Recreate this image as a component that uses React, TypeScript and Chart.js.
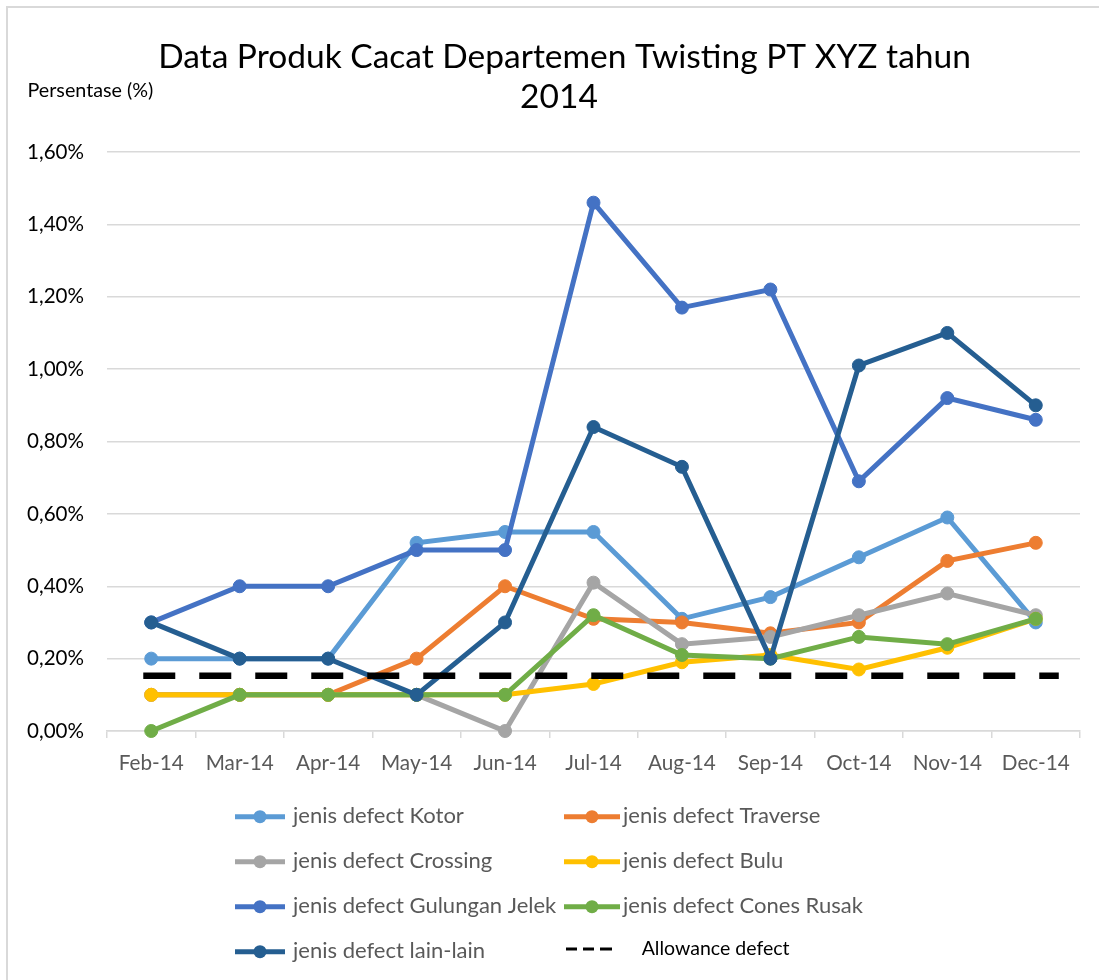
import React, { useEffect, useRef } from "react";
import { Chart, registerables } from "chart.js";

Chart.register(...registerables);

const months = ["Feb-14", "Mar-14", "Apr-14", "May-14", "Jun-14", "Jul-14", "Aug-14", "Sep-14", "Oct-14", "Nov-14", "Dec-14"];

const kotor = [0.2, 0.2, 0.2, 0.52, 0.55, 0.55, 0.31, 0.37, 0.48, 0.59, 0.3];
const traverse = [0.1, 0.1, 0.1, 0.2, 0.4, 0.31, 0.3, 0.27, 0.3, 0.47, 0.52];
const crossing = [0.1, 0.1, 0.1, 0.1, 0.0, 0.41, 0.24, 0.26, 0.32, 0.38, 0.32];
const bulu = [0.1, 0.1, 0.1, 0.1, 0.1, 0.13, 0.19, 0.21, 0.17, 0.23, 0.31];
const gulunganJelek = [0.3, 0.4, 0.4, 0.5, 0.5, 1.46, 1.17, 1.22, 0.69, 0.92, 0.86];
const conesRusak = [0.0, 0.1, 0.1, 0.1, 0.1, 0.32, 0.21, 0.2, 0.26, 0.24, 0.31];
const lainLain = [0.3, 0.2, 0.2, 0.1, 0.3, 0.84, 0.73, 0.2, 1.01, 1.1, 0.9];

const allowanceValue = 0.153;
// extent of the allowance line, in month-index units (Feb-14 = 0)
const allowanceSpan = [-0.09, 10.26];

const seriesNames = [
  "jenis defect Kotor",
  "jenis defect Traverse",
  "jenis defect Crossing",
  "jenis defect Bulu",
  "jenis defect Gulungan Jelek",
  "jenis defect Cones Rusak",
  "jenis defect lain-lain",
];
const seriesValues = [kotor, traverse, crossing, bulu, gulunganJelek, conesRusak, lainLain];
const seriesColors = ["#5B9BD5", "#ED7D31", "#A5A5A5", "#FFC000", "#4472C4", "#70AD47", "#255E91"];

const allowanceLabel = "Allowance defect";
const titleLines = ["Data Produk Cacat Departemen Twisting PT XYZ tahun", "2014"];
const yAxisLabel = "Persentase (%)";
const yMin = 0;
const yMax = 1.6;
const yStep = 0.2;

const FONT = "Lato";

function fitSize(text: string, width: number): number {
  const c = document.createElement("canvas").getContext("2d")!;
  c.font = `100px ${FONT}`;
  return (100 * width) / c.measureText(text).width;
}

export default function App() {
  const ref = useRef<HTMLCanvasElement | null>(null);

  useEffect(() => {
    if (!ref.current) return;
    const titleSize = fitSize(titleLines[0], 813);
    const yLabelSize = fitSize(yAxisLabel, 126);
    const yTickSize = fitSize("1,60%", 57);
    const xTickSize = fitSize("Feb-14", 65);
    const legendSize = fitSize("jenis defect Cones Rusak", 240);
    const allowSize = fitSize(allowanceLabel, 148);

    const decor = {
      id: "decor",
      afterDraw(chart: any) {
        const ctx = chart.ctx as CanvasRenderingContext2D;
        ctx.save();
        ctx.textBaseline = "alphabetic";
        ctx.fillStyle = "#000000";
        ctx.textAlign = "center";
        ctx.font = `${titleSize}px ${FONT}`;
        ctx.fillText(titleLines[0], 564.5, 67.7);
        ctx.fillText(titleLines[1], 559, 108);

        ctx.textAlign = "left";
        ctx.font = `${yLabelSize}px ${FONT}`;
        ctx.fillText(yAxisLabel, 27.5, 96.7);

        // legend
        const symX0 = [235, 564];
        const symX1 = [285, 620];
        const textX = [293, 623];
        const ds = chart.data.datasets;
        for (let i = 0; i < seriesNames.length; i++) {
          const col = i % 2;
          const row = Math.floor(i / 2);
          const cy = 816.7 + 45 * row;
          const color = ds[i].borderColor;
          ctx.strokeStyle = color;
          ctx.lineWidth = 5;
          ctx.lineCap = "butt";
          ctx.beginPath();
          ctx.moveTo(symX0[col], cy);
          ctx.lineTo(symX1[col], cy);
          ctx.stroke();
          ctx.fillStyle = color;
          ctx.beginPath();
          ctx.arc((symX0[col] + symX1[col]) / 2, cy, 6.5, 0, Math.PI * 2);
          ctx.fill();
          ctx.fillStyle = "#595959";
          ctx.font = `${legendSize}px ${FONT}`;
          ctx.fillText(ds[i].label, textX[col], cy + 6.7);
        }
        // allowance legend entry
        ctx.strokeStyle = "#000000";
        ctx.lineWidth = 3;
        const dashes = [[566, 577], [583, 594], [600, 612]];
        for (const [a, b] of dashes) {
          ctx.beginPath();
          ctx.moveTo(a, 949);
          ctx.lineTo(b, 949);
          ctx.stroke();
        }
        ctx.fillStyle = "#000000";
        ctx.font = `${allowSize}px ${FONT}`;
        ctx.fillText(allowanceLabel, 641.7, 955);
        ctx.restore();
      },
    };

    const datasets: any[] = seriesNames.map((name, i) => ({
      label: name,
      data: seriesValues[i],
      borderColor: seriesColors[i],
      backgroundColor: seriesColors[i],
      pointBackgroundColor: seriesColors[i],
      pointBorderColor: seriesColors[i],
      borderWidth: 5,
      pointRadius: 6.5,
      pointBorderWidth: 1,
      tension: 0,
      clip: false,
      order: 8 - i,
      xAxisID: "x",
    }));
    datasets.push({
      label: allowanceLabel,
      data: allowanceSpan.map((x) => ({ x, y: allowanceValue })),
      borderColor: "#000000",
      backgroundColor: "#000000",
      borderWidth: 6.5,
      borderDash: [32, 24],
      borderCapStyle: "butt",
      pointRadius: 0,
      clip: false,
      order: 1,
      xAxisID: "x2",
    });

    const chart = new Chart(ref.current, {
      type: "line",
      data: { labels: months, datasets },
      options: {
        responsive: false,
        animation: false,
        devicePixelRatio: 1,
        layout: { padding: { left: 0, top: 152, right: 19, bottom: 189 } },
        plugins: {
          legend: { display: false },
          title: { display: false },
          tooltip: { enabled: false },
        },
        scales: {
          x: {
            type: "category",
            offset: true,
            grid: {
              offset: true,
              drawOnChartArea: false,
              drawTicks: true,
              tickLength: 7,
              color: "#D9D9D9",
              lineWidth: 1.5,
            },
            border: { display: true, color: "#D9D9D9", width: 1.5 },
            ticks: {
              color: "#595959",
              font: { family: FONT, size: xTickSize },
              padding: 13,
              maxRotation: 0,
              autoSkip: false,
            },
            afterFit: (s: any) => {
              s.height = 60;
            },
          },
          x2: {
            type: "linear",
            display: false,
            min: -0.5,
            max: months.length - 0.5,
          },
          y: {
            min: yMin,
            max: yMax,
            ticks: {
              stepSize: yStep,
              color: "#000000",
              font: { family: FONT, size: yTickSize },
              padding: 23,
              callback: (v: any) => Number(v).toFixed(2).replace(".", ",") + "%",
            },
            grid: { color: "#D9D9D9", lineWidth: 1.5, drawTicks: false },
            border: { display: false },
            afterFit: (s: any) => {
              s.width = 107;
            },
          },
        },
      },
      plugins: [decor],
    });
    return () => chart.destroy();
  }, []);

  return (
    <div style={{ position: "absolute", left: 0, top: 0, width: 1099, height: 980, overflow: "hidden", background: "#fff" }}>
      <div
        style={{
          position: "absolute",
          left: 6,
          top: 6,
          width: 1300,
          height: 1300,
          borderLeft: "2px solid #D9D9D9",
          borderTop: "2px solid #D9D9D9",
        }}
      />
      <canvas ref={ref} width={1099} height={980} style={{ position: "absolute", left: 0, top: 0, width: 1099, height: 980 }} />
    </div>
  );
}
